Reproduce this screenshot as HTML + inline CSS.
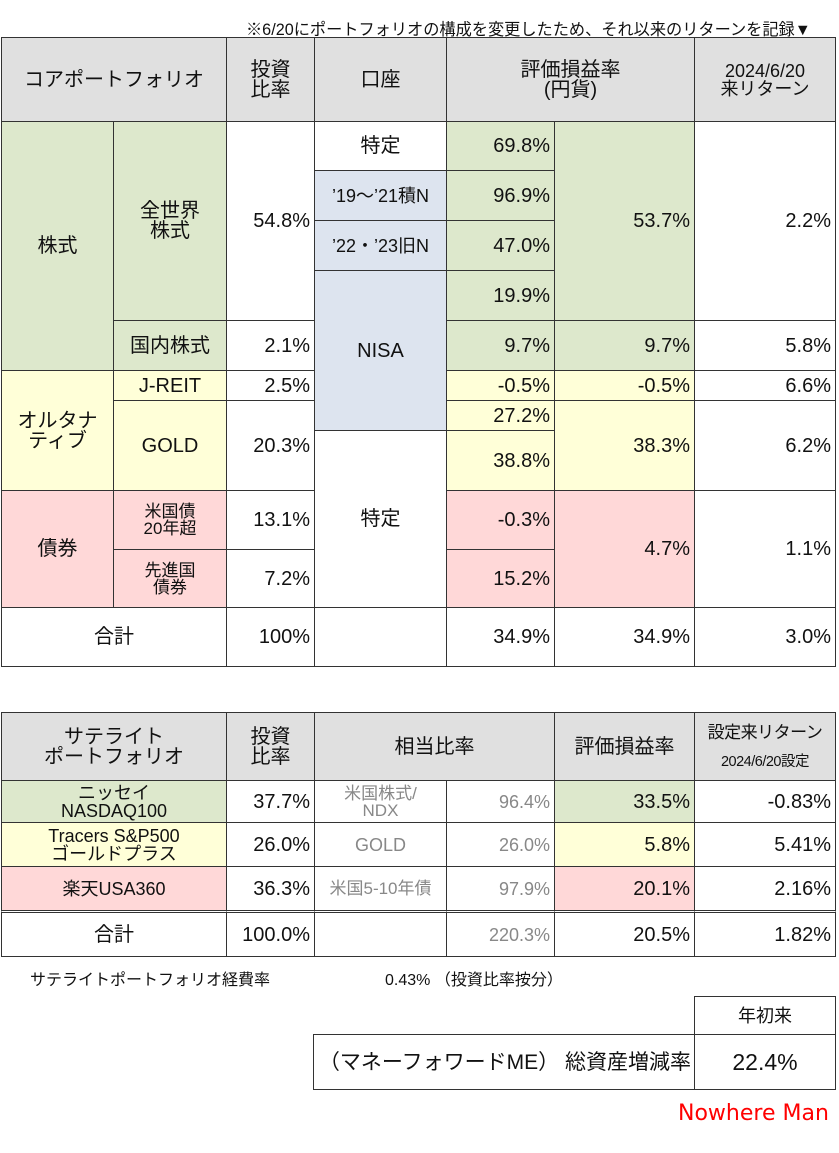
<!DOCTYPE html>
<html><head><meta charset="utf-8">
<style>
body{margin:0;width:839px;height:1153px;background:#fff;position:relative;overflow:hidden;font-family:"Liberation Sans","Noto Sans CJK JP",sans-serif;color:#111}
.c{position:absolute;box-sizing:border-box;border:1.5px solid #333;display:flex;align-items:center;justify-content:center;text-align:center;font-size:20px;line-height:1.0;background:#fff;white-space:nowrap}
.r{justify-content:flex-end;padding-right:4px}
.h{background:#e0e0e0}
.g{background:#dde8cc}.y{background:#ffffd8}.p{background:#ffd8d8}.b{background:#dde4ef}
.gr{color:#888}
.t{position:absolute;white-space:nowrap}
</style></head><body>
<div class="t" style="left:246px;top:16px;font-size:16.2px">※6/20にポートフォリオの構成を変更したため、それ以来のリターンを記録▼</div>

<div class="c h" style="left:1px;top:37px;width:226px;height:85px">コアポートフォリオ</div>
<div class="c h" style="left:226px;top:37px;width:89px;height:85px">投資<br>比率</div>
<div class="c h" style="left:314px;top:37px;width:133px;height:85px">口座</div>
<div class="c h" style="left:446px;top:37px;width:249px;height:85px">評価損益率<br>(円貨)</div>
<div class="c h" style="left:694px;top:37px;width:142px;height:85px;font-size:18px">2024/6/20<br>来リターン</div>

<div class="c g" style="left:1px;top:121px;width:113px;height:250px">株式</div>
<div class="c y" style="left:1px;top:370px;width:113px;height:121px">オルタナ<br>ティブ</div>
<div class="c p" style="left:1px;top:490px;width:113px;height:118px">債券</div>
<div class="c" style="left:1px;top:607px;width:226px;height:60px">合計</div>

<div class="c g" style="left:113px;top:121px;width:114px;height:200px">全世界<br>株式</div>
<div class="c g" style="left:113px;top:320px;width:114px;height:51px">国内株式</div>
<div class="c y" style="left:113px;top:370px;width:114px;height:31px">J-REIT</div>
<div class="c y" style="left:113px;top:400px;width:114px;height:91px">GOLD</div>
<div class="c p" style="left:113px;top:490px;width:114px;height:60px;font-size:17px">米国債<br>20年超</div>
<div class="c p" style="left:113px;top:549px;width:114px;height:59px;font-size:17px">先進国<br>債券</div>

<div class="c r" style="left:226px;top:121px;width:89px;height:200px">54.8%</div>
<div class="c r" style="left:226px;top:320px;width:89px;height:51px">2.1%</div>
<div class="c r" style="left:226px;top:370px;width:89px;height:31px">2.5%</div>
<div class="c r" style="left:226px;top:400px;width:89px;height:91px">20.3%</div>
<div class="c r" style="left:226px;top:490px;width:89px;height:60px">13.1%</div>
<div class="c r" style="left:226px;top:549px;width:89px;height:59px">7.2%</div>
<div class="c r" style="left:226px;top:607px;width:89px;height:60px">100%</div>

<div class="c" style="left:314px;top:121px;width:133px;height:50px">特定</div>
<div class="c b" style="left:314px;top:170px;width:133px;height:51px;font-size:18px">’19～’21積N</div>
<div class="c b" style="left:314px;top:220px;width:133px;height:51px;font-size:18px">’22・’23旧N</div>
<div class="c b" style="left:314px;top:270px;width:133px;height:161px">NISA</div>
<div class="c" style="left:314px;top:430px;width:133px;height:178px">特定</div>
<div class="c" style="left:314px;top:607px;width:133px;height:60px"></div>

<div class="c r g" style="left:446px;top:121px;width:109px;height:50px">69.8%</div>
<div class="c r g" style="left:446px;top:170px;width:109px;height:51px">96.9%</div>
<div class="c r g" style="left:446px;top:220px;width:109px;height:51px">47.0%</div>
<div class="c r g" style="left:446px;top:270px;width:109px;height:51px">19.9%</div>
<div class="c r g" style="left:446px;top:320px;width:109px;height:51px">9.7%</div>
<div class="c r y" style="left:446px;top:370px;width:109px;height:31px">-0.5%</div>
<div class="c r y" style="left:446px;top:400px;width:109px;height:31px">27.2%</div>
<div class="c r y" style="left:446px;top:430px;width:109px;height:61px">38.8%</div>
<div class="c r p" style="left:446px;top:490px;width:109px;height:60px">-0.3%</div>
<div class="c r p" style="left:446px;top:549px;width:109px;height:59px">15.2%</div>
<div class="c r" style="left:446px;top:607px;width:109px;height:60px">34.9%</div>

<div class="c r g" style="left:554px;top:121px;width:141px;height:200px">53.7%</div>
<div class="c r g" style="left:554px;top:320px;width:141px;height:51px">9.7%</div>
<div class="c r y" style="left:554px;top:370px;width:141px;height:31px">-0.5%</div>
<div class="c r y" style="left:554px;top:400px;width:141px;height:91px">38.3%</div>
<div class="c r p" style="left:554px;top:490px;width:141px;height:118px">4.7%</div>
<div class="c r" style="left:554px;top:607px;width:141px;height:60px">34.9%</div>

<div class="c r" style="left:694px;top:121px;width:142px;height:200px">2.2%</div>
<div class="c r" style="left:694px;top:320px;width:142px;height:51px">5.8%</div>
<div class="c r" style="left:694px;top:370px;width:142px;height:31px">6.6%</div>
<div class="c r" style="left:694px;top:400px;width:142px;height:91px">6.2%</div>
<div class="c r" style="left:694px;top:490px;width:142px;height:118px">1.1%</div>
<div class="c r" style="left:694px;top:607px;width:142px;height:60px">3.0%</div>

<div class="c h" style="left:1px;top:712px;width:226px;height:69px">サテライト<br>ポートフォリオ</div>
<div class="c h" style="left:226px;top:712px;width:89px;height:69px">投資<br>比率</div>
<div class="c h" style="left:314px;top:712px;width:241px;height:69px">相当比率</div>
<div class="c h" style="left:554px;top:712px;width:141px;height:69px">評価損益率</div>
<div class="c h" style="left:694px;top:712px;width:142px;height:69px"><div style="font-size:17px;line-height:1.6;letter-spacing:-0.5px">設定来リターン<br><span style="font-size:14.5px">2024/6/20設定</span></div></div>

<div class="c g" style="left:1px;top:780px;width:226px;height:43px;font-size:18px">ニッセイ<br>NASDAQ100</div>
<div class="c y" style="left:1px;top:822px;width:226px;height:45px;font-size:18px">Tracers S&amp;P500<br>ゴールドプラス</div>
<div class="c p" style="left:1px;top:866px;width:226px;height:45px;font-size:18px">楽天USA360</div>
<div class="c" style="left:1px;top:910px;width:226px;height:47px;border-top:3px double #333">合計</div>

<div class="c r" style="left:226px;top:780px;width:89px;height:43px">37.7%</div>
<div class="c r" style="left:226px;top:822px;width:89px;height:45px">26.0%</div>
<div class="c r" style="left:226px;top:866px;width:89px;height:45px">36.3%</div>
<div class="c r" style="left:226px;top:910px;width:89px;height:47px;border-top:3px double #333">100.0%</div>

<div class="c gr" style="left:314px;top:780px;width:133px;height:43px;font-size:17px">米国株式/<br>NDX</div>
<div class="c gr" style="left:314px;top:822px;width:133px;height:45px;font-size:18px">GOLD</div>
<div class="c gr" style="left:314px;top:866px;width:133px;height:45px;font-size:17px">米国5-10年債</div>
<div class="c" style="left:314px;top:910px;width:133px;height:47px;border-top:3px double #333"></div>

<div class="c r gr" style="left:446px;top:780px;width:109px;height:43px;font-size:18px">96.4%</div>
<div class="c r gr" style="left:446px;top:822px;width:109px;height:45px;font-size:18px">26.0%</div>
<div class="c r gr" style="left:446px;top:866px;width:109px;height:45px;font-size:18px">97.9%</div>
<div class="c r gr" style="left:446px;top:910px;width:109px;height:47px;font-size:18px;border-top:3px double #333">220.3%</div>

<div class="c r g" style="left:554px;top:780px;width:141px;height:43px">33.5%</div>
<div class="c r y" style="left:554px;top:822px;width:141px;height:45px">5.8%</div>
<div class="c r p" style="left:554px;top:866px;width:141px;height:45px">20.1%</div>
<div class="c r" style="left:554px;top:910px;width:141px;height:47px;border-top:3px double #333">20.5%</div>

<div class="c r" style="left:694px;top:780px;width:142px;height:43px">-0.83%</div>
<div class="c r" style="left:694px;top:822px;width:142px;height:45px">5.41%</div>
<div class="c r" style="left:694px;top:866px;width:142px;height:45px">2.16%</div>
<div class="c r" style="left:694px;top:910px;width:142px;height:47px;border-top:3px double #333">1.82%</div>

<div class="t" style="left:30px;top:966px;font-size:16px">サテライトポートフォリオ経費率</div>
<div class="t" style="left:385px;top:966px;font-size:16px">0.43% （投資比率按分）</div>

<div class="c" style="left:694px;top:996px;width:142px;height:40px;font-size:18px">年初来</div>
<div class="c" style="left:313px;top:1034px;width:382px;height:56px;font-size:21px;justify-content:flex-end;padding-right:3px">（マネーフォワードME） 総資産増減率</div>
<div class="c" style="left:694px;top:1034px;width:142px;height:56px;font-size:23px">22.4%</div>

<div class="t" style="left:678px;top:1101px;font-size:22px;color:#f00;font-family:'Comic Sans MS','DejaVu Sans',sans-serif">Nowhere Man</div>
</body></html>
